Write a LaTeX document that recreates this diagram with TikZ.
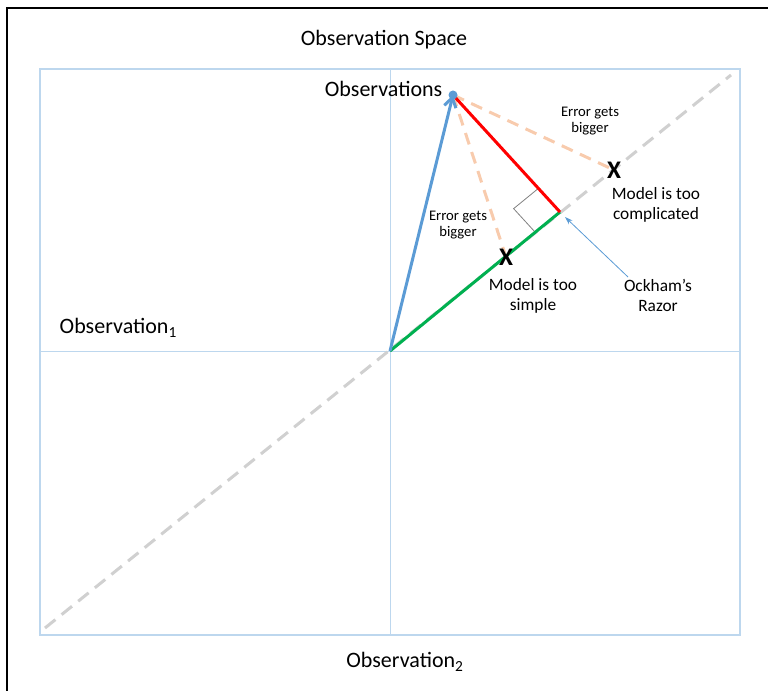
\documentclass[tikz,border=0pt]{standalone}
\usepackage{fontspec}
\setmainfont{Carlito}
\usetikzlibrary{calc,arrows.meta}
\definecolor{gridblue}{HTML}{BDD7EE}
\definecolor{diaggray}{HTML}{D0D0D0}
\definecolor{errorange}{HTML}{F8CBAD}
\definecolor{vecblue}{HTML}{5B9BD5}
\definecolor{fitgreen}{HTML}{00B050}
\tikzset{
  big/.style={font=\fontsize{16.5}{19}\selectfont,align=center},
  mid/.style={font=\fontsize{13}{15}\selectfont,align=center},
  small/.style={font=\fontsize{11}{12.5}\selectfont,align=center},
  xmark/.style={font=\fontsize{19}{19}\selectfont\bfseries,inner sep=0pt},
  errline/.style={errorange,line width=2.25pt,dash pattern=on 9pt off 6pt},
}
\begin{document}
\begin{tikzpicture}[x=0.75pt,y=-0.75pt]
\useasboundingbox (0,0) rectangle (768,691);
% frame (cropped)
\draw[line width=1.1pt](7,691)--(7,8)--(768,8);
% observation space
\draw[gridblue,line width=0.9pt](40,69) rectangle (740,635);
\draw[gridblue,line width=0.7pt](390,69)--(390,635);
\draw[gridblue,line width=0.7pt](40,351)--(740,351);
\coordinate (O) at (390,351);
\coordinate (diagA) at (45,628);
\coordinate (diagB) at (731,75);
\coordinate (obs) at (453,95);
\coordinate (foot) at (560,212);
\coordinate (simple) at (506,257);
\coordinate (complex) at (614,170);
\draw[diaggray,line width=2.25pt,dash pattern=on 10pt off 6pt](diagA)--(diagB);
% errors
\draw[errline](obs)--(simple);
\draw[errline](obs)--(complex);
% right angle
\coordinate (ra1) at ($(foot)!24pt!(obs)$);
\coordinate (ra2) at ($(foot)!24pt!(O)$);
\draw[gray,line width=0.6pt](ra1)--($(ra1)+(ra2)-(foot)$)--(ra2);
% vectors
\draw[fitgreen,line width=2.25pt](O)--(foot);
\draw[red,line width=2.25pt](obs)--(foot);
\draw[vecblue,line width=2.25pt,-{Straight Barb[length=7pt,width=9pt]}](O)--(obs);
\fill[vecblue](obs) circle (4.5);
% labels
\node[big] (title) at (384,40) {Observation Space};
\node[big,anchor=east] (obslbl) at (447,89) {Observations};
\node[big,anchor=west] (ylbl) at (55,328) {Observation\textsubscript{1}};
\node[big] (xlbl) at (405,662) {Observation\textsubscript{2}};
\node[xmark] (xs) at (simple) {X};
\node[xmark] (xc) at (complex) {X};
\node[small] (errhi) at (590,121) {Error gets\\bigger};
\node[small] (errlo) at (458,225) {Error gets\\bigger};
\node[mid] (toocomp) at (656,205) {Model is too\\complicated};
\node[mid] (toosimp) at (533,296) {Model is too\\simple};
\node[mid] (razor) at (658,295) {Ockham’s\\Razor};
\coordinate (razortail) at (628,277);
\draw[vecblue,line width=0.6pt,-{Stealth[length=6pt,width=4pt]}](razortail)--($(foot)+(5,5)$);
\end{tikzpicture}
\end{document}
